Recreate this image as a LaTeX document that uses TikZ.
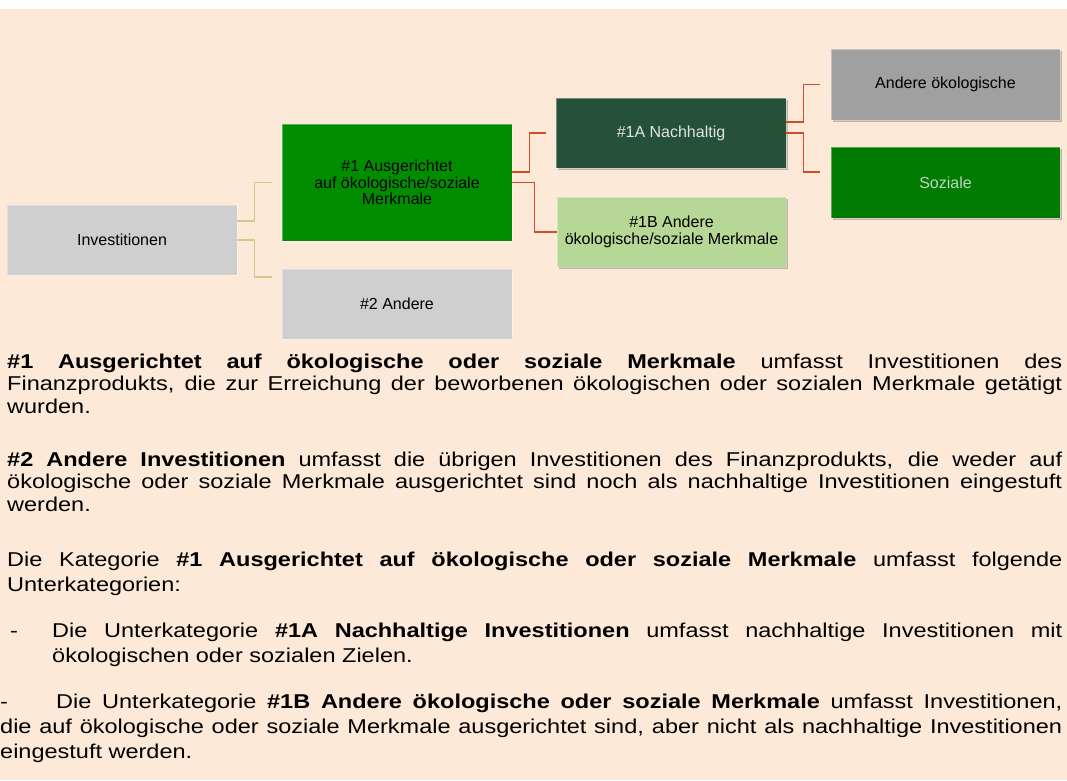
\documentclass[tikz,border=0pt]{standalone}
\usepackage{fontspec}
\setmainfont{Liberation Sans}
\newfontfamily\bodyfont[FakeStretch=1.175]{Liberation Sans}
\usetikzlibrary{calc,shadows}
\definecolor{peach}{HTML}{FDE9D8}
\definecolor{boxgrey}{HTML}{CFCFCF}
\definecolor{boxdarkgrey}{HTML}{A0A0A0}
\definecolor{boxgreen}{HTML}{008E00}
\definecolor{boxdeepgreen}{HTML}{007A00}
\definecolor{boxdark}{HTML}{245138}
\definecolor{boxlight}{HTML}{B6D795}
\definecolor{tanline}{HTML}{D6C78E}
\definecolor{redline}{HTML}{CF4D2A}
\definecolor{softwhite}{HTML}{E4E4E4}
\definecolor{softgreen}{HTML}{BCD6BC}
\tikzset{
  catbox/.style={rectangle, inner sep=2pt, align=center, text=black,
    font=\fontsize{16}{16.5}\selectfont, draw=white, draw opacity=0.35, line width=0.6pt},
  shadowed/.style={drop shadow={shadow xshift=1.5pt, shadow yshift=-2pt, opacity=0.35, fill=black!70}},
  tanconn/.style={draw=tanline, line width=1.6pt},
  redconn/.style={draw=redline, line width=1.6pt},
  bodytext/.style={anchor=base west, inner sep=0pt, align=justify, text=black,
    font=\bodyfont\fontsize{20}{22.5}\selectfont},
  bodyloose/.style={bodytext, font=\bodyfont\fontsize{20}{25}\selectfont}
}
\begin{document}
\hyphenpenalty=10000
\tolerance=10000
\begin{tikzpicture}[x=1pt,y=-1pt]
\useasboundingbox (0,0) rectangle (1067,780);
\fill[white] (0,0) rectangle (1067,780);
\fill[peach] (0,9) rectangle (1067,780);

% diagram boxes
\node[catbox, fill=boxgrey, minimum width=230pt, minimum height=70pt] (inv) at (122,240) {Investitionen};
\node[catbox, fill=boxgreen, minimum width=230pt, minimum height=117pt] (b1) at (397,182.5) {\#1 Ausgerichtet\\auf ökologische/soziale\\Merkmale};
\node[catbox, fill=boxgrey, minimum width=230pt, minimum height=70pt] (b2) at (397,304) {\#2 Andere};
\node[catbox, shadowed, fill=boxdark, text=softwhite, minimum width=230pt, minimum height=70pt] (b1a) at (671,133) {\#1A Nachhaltig};
\node[catbox, shadowed, fill=boxlight, minimum width=229pt, minimum height=70pt] (b1b) at (671.5,232) {\#1B Andere\\ökologische/soziale Merkmale};
\node[catbox, shadowed, fill=boxdarkgrey, minimum width=229pt, minimum height=71pt] (oth) at (945.5,84.5) {Andere ökologische};
\node[catbox, shadowed, fill=boxdeepgreen, text=softgreen, minimum width=229pt, minimum height=71pt] (soz) at (945.5,182.5) {Soziale};

% connectors
\draw[tanconn] ($(inv.north east)+(0,16)$) -- ++(17,0) |- ($(b1.west)+(-10,0)$);
\draw[tanconn] ($(inv.north east)+(0,35)$) -- ++(17,0) |- ($(b2.north west)+(-10,8)$);
\draw[redconn] ($(b1.east)+(0,-10.5)$) -- ++(17,0) |- ($(b1a.west)+(-10,0)$);
\draw[redconn] (b1.east) -- ++(22,0) |- (b1b.west);
\draw[redconn] ($(b1a.east)+(0,-11)$) -- ++(17,0) |- ($(oth.west)+(-11,0)$);
\draw[redconn] (b1a.east) -- ++(17,0) |- ($(soz.west)+(-11,-10.5)$);

% explanatory text
\node[bodytext, text width=1055pt] (p1) at (7,368) {\textbf{\#1 Ausgerichtet auf ökologische oder soziale Merkmale} umfasst Investitionen des\linebreak
Finanzprodukts, die zur Erreichung der beworbenen ökologischen oder sozialen Merkmale getätigt\linebreak
wurden.};
\node[bodytext, text width=1055pt] (p2) at (7,466) {\textbf{\#2 Andere Investitionen} umfasst die übrigen Investitionen des Finanzprodukts, die weder auf\linebreak
ökologische oder soziale Merkmale ausgerichtet sind noch als nachhaltige Investitionen eingestuft\linebreak
werden.};
\node[bodyloose, text width=1055pt] (p3) at (7,566) {Die Kategorie \textbf{\#1 Ausgerichtet auf ökologische oder soziale Merkmale} umfasst folgende\linebreak
Unterkategorien:};
\node[bodyloose, text width=1010pt] (p4) at (52,637) {\llap{\makebox[42pt][l]{-}}Die Unterkategorie \textbf{\#1A Nachhaltige Investitionen} umfasst nachhaltige Investitionen mit\linebreak
ökologischen oder sozialen Zielen.};
\node[bodyloose, text width=1062pt] (p5) at (0,708) {\makebox[56pt][l]{-}Die Unterkategorie \textbf{\#1B Andere ökologische oder soziale Merkmale} umfasst Investitionen,\linebreak
die auf ökologische oder soziale Merkmale ausgerichtet sind, aber nicht als nachhaltige Investitionen\linebreak
eingestuft werden.};
\end{tikzpicture}
\end{document}
